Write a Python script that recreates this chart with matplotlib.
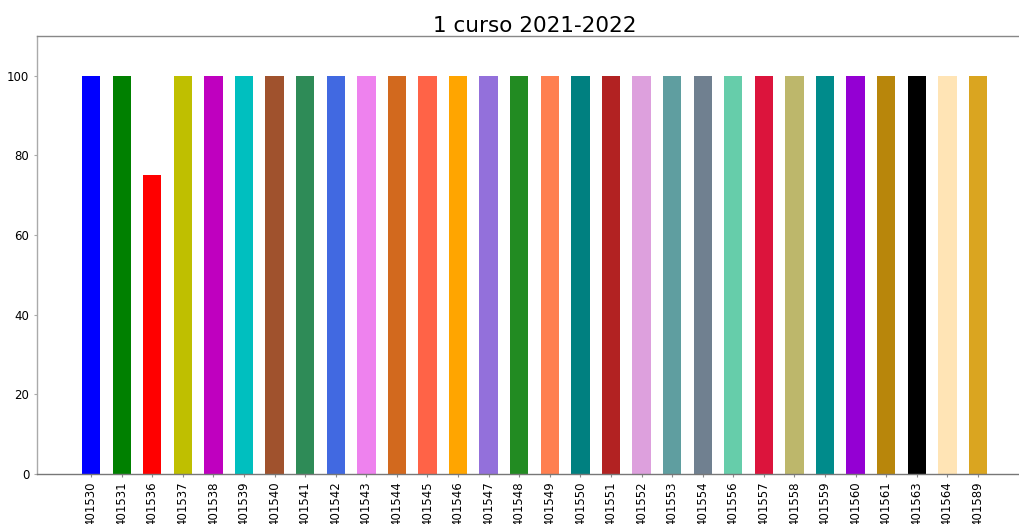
import matplotlib
matplotlib.use("Agg")
import matplotlib.pyplot as plt

categories = ["401530", "401531", "401536", "401537", "401538", "401539", "401540",
              "401541", "401542", "401543", "401544", "401545", "401546", "401547",
              "401548", "401549", "401550", "401551", "401552", "401553", "401554",
              "401556", "401557", "401558", "401559", "401560", "401561", "401563",
              "401564", "401589"]
values = [100, 100, 75, 100, 100, 100, 100, 100, 100, 100, 100, 100, 100, 100, 100,
          100, 100, 100, 100, 100, 100, 100, 100, 100, 100, 100, 100, 100, 100, 100]
colors = ["b", "g", "r", "y", "m", "c", "sienna", "seagreen", "royalblue", "violet",
          "chocolate", "tomato", "orange", "mediumpurple", "forestgreen", "coral",
          "teal", "firebrick", "plum", "cadetblue", "slategray", "mediumaquamarine",
          "crimson", "darkkhaki", "darkcyan", "darkviolet", "darkgoldenrod", "black",
          "moccasin", "goldenrod"]
yticks = [0, 20, 40, 60, 80, 100]

fig = plt.figure(figsize=(10.19, 5.24), dpi=100)
ax = fig.add_axes([0.0363, 0.0954, 0.9765, 0.8359])
x = list(range(len(categories)))
ax.bar(x, values, width=0.6, color=colors)
ax.set_xticks(x)
ax.set_xticklabels(categories, rotation=90, fontsize=8.5)
ax.set_yticks(yticks)
ax.tick_params(axis='y', labelsize=8.5, length=2, color='#aaaaaa')
ax.tick_params(axis='x', length=2, color='#888888')
ax.set_xlim(-1.77, len(categories) - 1 + 1.77)
ax.set_ylim(0, 110)
ax.set_title("1 curso 2021-2022", fontsize=15.5, pad=3)
ax.spines['top'].set_color('#888888')
ax.spines['bottom'].set_color('#777777')
ax.spines['left'].set_color('#aaaaaa')
ax.spines['right'].set_visible(False)
for s in ax.spines.values():
    s.set_linewidth(1.0)

fig.savefig("out.png", dpi=100)
